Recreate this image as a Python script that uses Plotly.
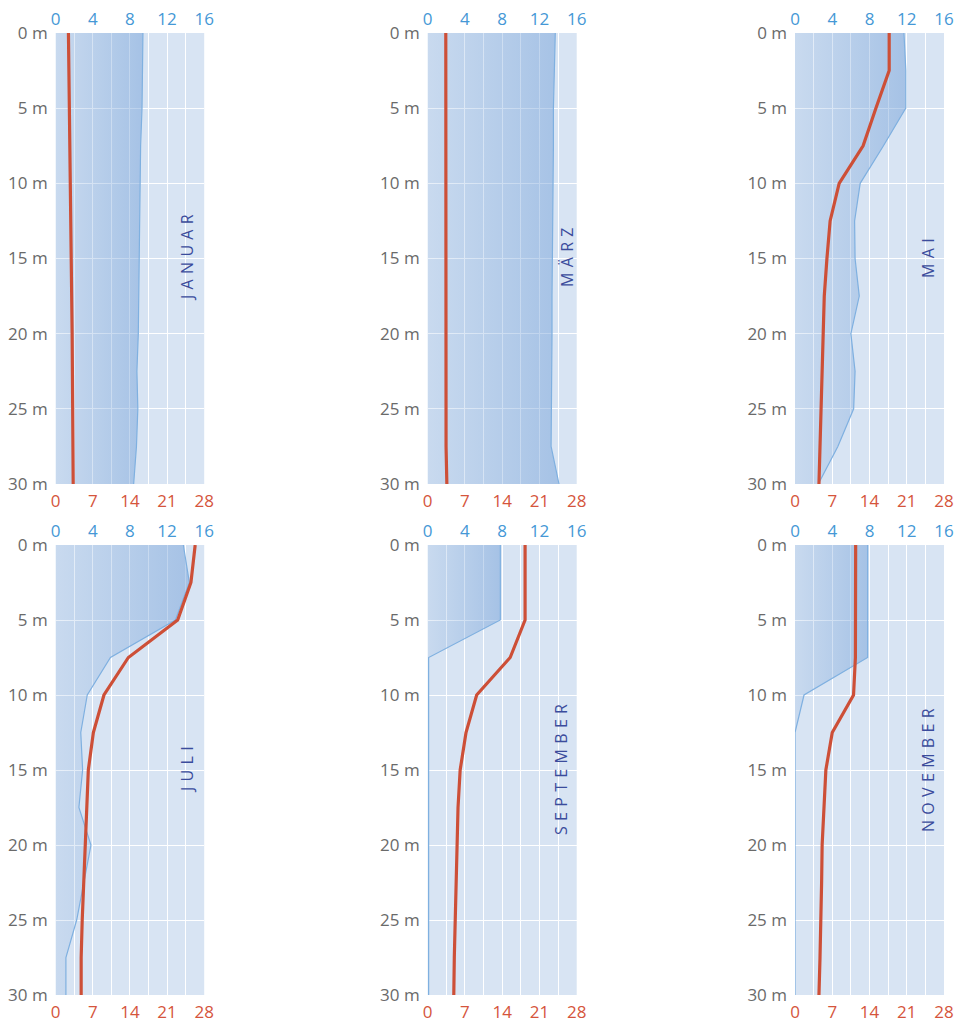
import plotly.graph_objects as go

# ---------------- data ----------------
depth = [0, 2.5, 5, 7.5, 10, 12.5, 15, 17.5, 20, 22.5, 25, 27.5, 30]
months = ["JANUAR", "MÄRZ", "MAI", "JULI", "SEPTEMBER", "NOVEMBER"]

# oxygen (top axis, 0-16)
oxy_jan = [9.4, 9.35, 9.3, 9.15, 9.1, 9.05, 9.0, 8.95, 8.9, 8.75, 8.85, 8.7, 8.4]
oxy_mar = [13.7, 13.6, 13.5, 13.5, 13.45, 13.4, 13.4, 13.35, 13.35, 13.3, 13.3, 13.25, 14.1]
oxy_mai = [11.7, 11.9, 11.9, 9.5, 7.0, 6.4, 6.45, 6.9, 6.0, 6.45, 6.3, 4.6, 2.5]
oxy_jul = [13.75, 14.4, 12.9, 5.9, 3.4, 2.7, 2.9, 2.5, 3.8, 3.05, 2.26, 1.1, 1.1]
oxy_sep = [7.8, 7.8, 7.8, 0.1, 0.1, 0.1, 0.1, 0.1, 0.1, 0.1, 0.1, 0.1, 0.1]
oxy_nov = [7.8, 7.8, 7.8, 7.8, 0.97, 0.0, 0.0, 0.0, 0.0, 0.0, 0.0, 0.0, 0.0]

# temperature (bottom axis, 0-28)
temp_jan = [2.4, 2.5, 2.6, 2.75, 2.8, 2.85, 2.9, 3.0, 3.1, 3.15, 3.2, 3.25, 3.3]
temp_mar = [3.4, 3.4, 3.4, 3.4, 3.4, 3.4, 3.4, 3.4, 3.4, 3.4, 3.4, 3.45, 3.6]
temp_mai = [17.7, 17.7, 15.2, 12.8, 8.3, 6.6, 6.0, 5.5, 5.3, 5.1, 4.9, 4.7, 4.5]
temp_jul = [26.3, 25.5, 23.0, 13.7, 9.1, 7.1, 6.15, 5.85, 5.5, 5.2, 5.0, 4.8, 4.8]
temp_sep = [18.3, 18.3, 18.3, 15.5, 9.2, 7.2, 6.1, 5.7, 5.5, 5.3, 5.1, 5.0, 4.9]
temp_nov = [11.4, 11.4, 11.45, 11.35, 11.0, 7.0, 5.8, 5.5, 5.1, 5.0, 4.9, 4.7, 4.5]

oxy_ticks = [0, 2, 4, 6, 8, 10, 12, 14, 16]
oxy_labels = ["0", "", "4", "", "8", "", "12", "", "16"]
temp_ticks = [0, 7, 14, 21, 28]
depth_ticks = [0, 5, 10, 15, 20, 25, 30]
depth_labels = [f"{d} m" for d in depth_ticks]

oxygen = [oxy_jan, oxy_mar, oxy_mai, oxy_jul, oxy_sep, oxy_nov]
temps = [temp_jan, temp_mar, temp_mai, temp_jul, temp_sep, temp_nov]

# ---------------- layout geometry ----------------
W, H = 970, 1021
OFF = 8  # page body margin of the html output
col_x = [(55.7, 204.2), (427.7, 576.7), (795.0, 944.0)]
row_y = [(33.0, 484.0), (545.0, 995.0)]
label_pos = [(187, 258), (567, 258), (928, 258), (187, 770), (561, 770), (928, 770)]

FONT = "Open Sans"
GRID = "white"
BLUE_TXT = "#4598d6"
RED_TXT = "#d5553c"
GRAY_TXT = "#6a6a6a"

fig = go.Figure()
layout = {}

for k in range(6):
    r, c = divmod(k, 3)
    i = k + 1
    ox_idx = 2 * i - 1
    tp_idx = 2 * i
    ox_name = "x" if ox_idx == 1 else f"x{ox_idx}"
    tp_name = f"x{tp_idx}"
    y_name = "y" if i == 1 else f"y{i}"

    xd = [(col_x[c][0] - OFF) / W, (col_x[c][1] - OFF) / W]
    yd = [1 - (row_y[r][1] - OFF) / H, 1 - (row_y[r][0] - OFF) / H]

    layout["xaxis" if ox_idx == 1 else f"xaxis{ox_idx}"] = dict(
        domain=xd, anchor=y_name, side="top", range=[0, 16],
        tickmode="array", tickvals=oxy_ticks, ticktext=oxy_labels,
        showgrid=True, gridcolor=GRID, gridwidth=1, zeroline=False,
        showline=False, ticks="", ticklabelstandoff=4, automargin=False,
        tickfont=dict(family=FONT, size=17, color=BLUE_TXT),
    )
    layout[f"xaxis{tp_idx}"] = dict(
        domain=xd, anchor=y_name, side="bottom", range=[0, 28],
        overlaying=ox_name,
        tickmode="array", tickvals=temp_ticks,
        showgrid=False, zeroline=False, showline=False, ticks="",
        ticklabelstandoff=5, automargin=False,
        tickfont=dict(family=FONT, size=17, color=RED_TXT),
    )
    layout["yaxis" if i == 1 else f"yaxis{i}"] = dict(
        domain=yd, anchor=ox_name, range=[30, 0],
        tickmode="array", tickvals=depth_ticks, ticktext=depth_labels,
        showgrid=True, gridcolor=GRID, gridwidth=1, zeroline=False,
        showline=False, ticks="", ticklabelstandoff=7, automargin=False,
        tickfont=dict(family=FONT, size=17, color=GRAY_TXT),
    )

    fig.add_trace(go.Scatter(
        x=oxygen[k], y=depth, mode="lines",
        line=dict(color="#7fb0e0", width=1.2),
        fill="tozerox",
        fillgradient=dict(type="horizontal", colorscale=[
            [0, "rgba(120,164,217,0.16)"], [1, "rgba(115,160,216,0.5)"]]),
        xaxis=ox_name, yaxis=y_name, showlegend=False, hoverinfo="skip",
    ))
    fig.add_trace(go.Scatter(
        x=temps[k], y=depth, mode="lines",
        line=dict(color="#cd4f37", width=3.2),
        xaxis=tp_name, yaxis=y_name, showlegend=False,
    ))

annotations = []
for k, m in enumerate(months):
    px, py = label_pos[k]
    annotations.append(dict(
        text="\u2009\u2009".join(list(m)),
        x=(px - OFF) / W, y=1 - (py - OFF) / H, xref="paper", yref="paper",
        xanchor="center", yanchor="middle", showarrow=False, textangle=-90,
        font=dict(family=FONT, size=16, color="#3b4c9c"),
    ))

fig.update_layout(
    **layout,
    annotations=annotations,
    width=W, height=H,
    margin=dict(l=0, r=0, t=0, b=0),
    paper_bgcolor="white",
    plot_bgcolor="#d8e4f3",
    showlegend=False,
)

fig.write_html("out.html")
